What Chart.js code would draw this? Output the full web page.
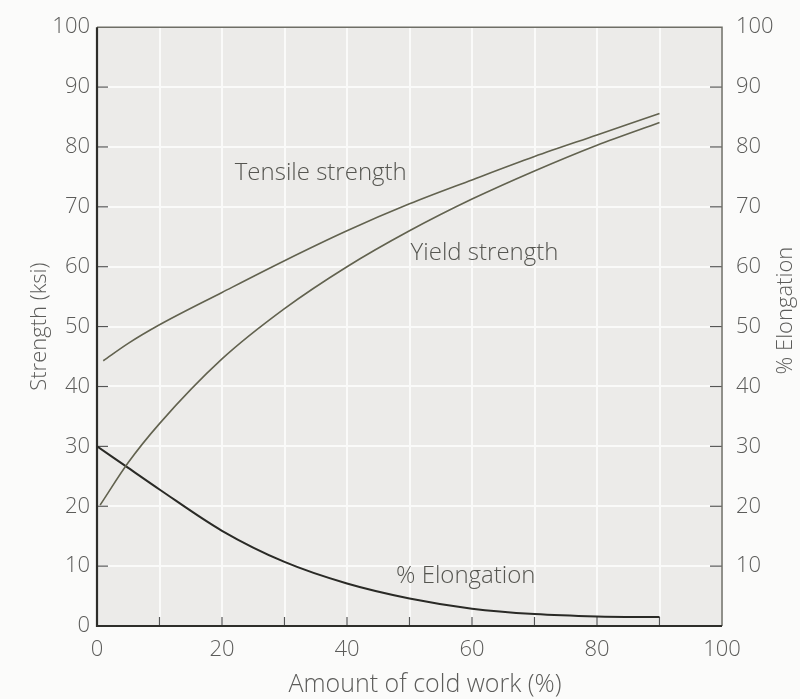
<!DOCTYPE html>
<html>
<head>
<meta charset="utf-8">
<script src="https://cdn.jsdelivr.net/npm/chart.js@4"></script>
<style>
  html, body { margin: 0; padding: 0; background: #fbfbfa; }
  #wrap { width: 800px; height: 699px; }
</style>
</head>
<body>
<div id="wrap"><canvas id="c" width="800" height="699"></canvas></div>
<script>
// Cold work (%) at which each curve is sampled
const coldWork = [1, 5, 10, 20, 30, 40, 50, 60, 70, 80, 90];
const coldWorkYield = [0.5, 5, 10, 20, 30, 40, 50, 60, 70, 80, 90];
const coldWorkElong = [0, 5, 10, 20, 30, 40, 50, 60, 70, 80, 90];

// Strength in ksi
const tensileStrength = [44.3, 47.2, 50.3, 55.7, 61, 66, 70.5, 74.5, 78.4, 82, 85.6];
const yieldStrength   = [20.2, 27.3, 33.8, 44.6, 53, 60, 66, 71.3, 76, 80.3, 84.1];
// Elongation in percent
const elongation      = [30, 26.4, 22.8, 15.9, 10.7, 7.1, 4.6, 2.9, 2.0, 1.6, 1.5];

const xTickLabels = [0, 20, 40, 60, 80, 100];
const yTicks = [0, 10, 20, 30, 40, 50, 60, 70, 80, 90, 100];

const FONT = "'Open Sans', 'DejaVu Sans', sans-serif";
const TXT = '#5c5c5a';

function pts(xs, ys) { return xs.map((x, i) => ({ x: x, y: ys[i] })); }

// Curve captions, placed in data units
const curveLabels = [
  { text: 'Tensile strength', x: 35.8, y: 75.6 },
  { text: 'Yield strength', x: 62, y: 62.3 },
  { text: '% Elongation', x: 59, y: 8.4 }
];

const frame = {
  id: 'frame',
  beforeDatasetsDraw(chart) {
    const { ctx, chartArea: a, scales } = chart;
    ctx.save();
    ctx.lineCap = 'butt';
    // inward tick marks
    ctx.strokeStyle = '#555';
    ctx.lineWidth = 1.2;
    yTicks.forEach(v => {
      if (v === 0 || v === 100) return;
      const py = scales.y.getPixelForValue(v);
      ctx.beginPath(); ctx.moveTo(a.left, py); ctx.lineTo(a.left + 11, py); ctx.stroke();
      const ry = scales.y2.getPixelForValue(v);
      ctx.beginPath(); ctx.moveTo(a.right, ry); ctx.lineTo(a.right - 12, ry); ctx.stroke();
    });
    for (let v = 10; v < 100; v += 10) {
      const px = scales.x.getPixelForValue(v);
      ctx.beginPath(); ctx.moveTo(px, a.bottom); ctx.lineTo(px, a.bottom - 9); ctx.stroke();
    }
    // frame: heavy left/bottom, lighter top/right
    ctx.strokeStyle = '#6e6e66';
    ctx.lineWidth = 1.5;
    ctx.beginPath(); ctx.moveTo(a.left, a.top); ctx.lineTo(a.right, a.top); ctx.lineTo(a.right, a.bottom); ctx.stroke();
    ctx.strokeStyle = '#2e2e2a';
    ctx.lineWidth = 2.2;
    ctx.beginPath(); ctx.moveTo(a.left, a.top); ctx.lineTo(a.left, a.bottom); ctx.lineTo(a.right, a.bottom); ctx.stroke();
    ctx.restore();
  },
  afterDatasetsDraw(chart) {
    const { ctx, chartArea: a, scales } = chart;
    ctx.save();
    ctx.font = '300 24px ' + FONT;
    ctx.fillStyle = '#555550';
    ctx.textAlign = 'center';
    ctx.textBaseline = 'middle';
    curveLabels.forEach(l => {
      ctx.fillText(l.text, scales.x.getPixelForValue(l.x), scales.y.getPixelForValue(l.y));
    });
    // axis titles
    ctx.fillStyle = TXT;
    ctx.font = '300 25px ' + FONT;
    ctx.fillText('Amount of cold work (%)', 425, 685);
    ctx.font = '300 22px ' + FONT;
    const midY = (a.top + a.bottom) / 2;
    ctx.save();
    ctx.translate(40, midY);
    ctx.rotate(-Math.PI / 2);
    ctx.fillText('Strength (ksi)', 0, 0);
    ctx.restore();
    ctx.save();
    ctx.translate(786, midY - 16);
    ctx.rotate(-Math.PI / 2);
    ctx.fillText('% Elongation', 0, 0);
    ctx.restore();
    ctx.restore();
  }
};

const plotBg = {
  id: 'plotBg',
  beforeDraw(chart) {
    const { ctx, chartArea: a } = chart;
    ctx.save();
    ctx.fillStyle = '#ecebe9';
    ctx.fillRect(a.left, a.top, a.right - a.left, a.bottom - a.top);
    ctx.restore();
  }
};

const curve = { showLine: true, cubicInterpolationMode: 'monotone', pointRadius: 0 };

new Chart(document.getElementById('c'), {
  type: 'scatter',
  data: {
    datasets: [
      Object.assign({ label: 'Tensile strength', data: pts(coldWork, tensileStrength),
        borderColor: '#62624f', borderWidth: 1.6, yAxisID: 'y' }, curve),
      Object.assign({ label: 'Yield strength', data: pts(coldWorkYield, yieldStrength),
        borderColor: '#62624f', borderWidth: 1.6, yAxisID: 'y' }, curve),
      Object.assign({ label: '% Elongation', data: pts(coldWorkElong, elongation),
        borderColor: '#2a2a26', borderWidth: 2, yAxisID: 'y2' }, curve)
    ]
  },
  options: {
    responsive: false,
    animation: false,
    layout: { padding: { top: 16, left: 0, right: 0, bottom: 0 } },
    plugins: { legend: { display: false }, tooltip: { enabled: false } },
    scales: {
      x: {
        type: 'linear', min: 0, max: 100,
        afterFit(s) { s.height = 73; },
        border: { display: false },
        grid: { color: '#fafaf9', lineWidth: 2, drawTicks: false },
        ticks: {
          stepSize: 10, autoSkip: false, padding: 11, color: TXT,
          font: { family: FONT, size: 22, weight: 300 },
          callback: v => xTickLabels.includes(v) ? String(v) : ''
        },
        title: { display: false }
      },
      y: {
        type: 'linear', position: 'left', min: 0, max: 100,
        afterFit(s) { s.width = 97; },
        border: { display: false },
        grid: { color: '#fafaf9', lineWidth: 2, drawTicks: false },
        ticks: { stepSize: 10, padding: 7, color: TXT,
          font: { family: FONT, size: 22, weight: 300 } },
        title: { display: false }
      },
      y2: {
        type: 'linear', position: 'right', min: 0, max: 100,
        afterFit(s) { s.width = 78; },
        border: { display: false },
        grid: { display: false, drawTicks: false },
        ticks: { stepSize: 10, padding: 14, color: TXT,
          font: { family: FONT, size: 22, weight: 300 },
          callback: v => v === 0 ? '' : String(v) },
        title: { display: false }
      }
    }
  },
  plugins: [plotBg, frame]
});
</script>
</body>
</html>
